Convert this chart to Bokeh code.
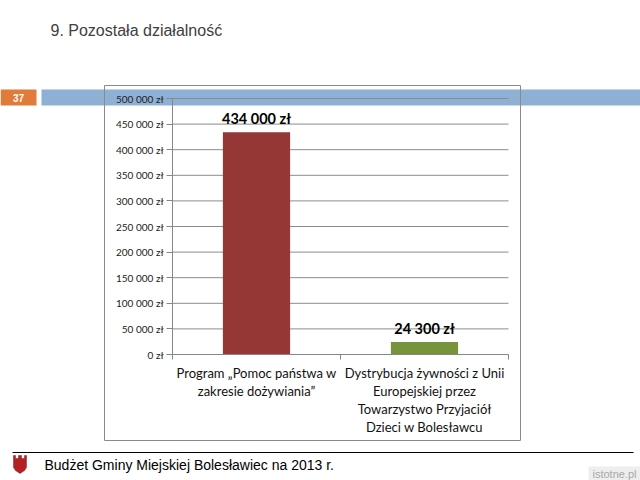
from bokeh.plotting import figure
from bokeh.models import Range1d, LinearAxis, FixedTicker
from bokeh.core.properties import value
from bokeh.embed import file_html
from bokeh.resources import INLINE

# ---- data ----
categories = ["Program „Pomoc państwa w\nzakresie dożywiania”",
              "Dystrybucja żywności z Unii\nEuropejskiej przez\nTowarzystwo Przyjaciół\nDzieci w Bolesławcu"]
amounts = [434000, 24300]
bar_colors = ["#953735", "#77933C"]
y_ticks = [0, 50000, 100000, 150000, 200000, 250000, 300000, 350000, 400000, 450000, 500000]
y_tick_labels = ["0 zł", "50 000 zł", "100 000 zł", "150 000 zł", "200 000 zł", "250 000 zł",
                 "300 000 zł", "350 000 zł", "400 000 zł", "450 000 zł", "500 000 zł"]
amount_labels = ["434 000 zł", "24 300 zł"]
y_max = 500000
slide_title = "9. Pozostała działalność"
slide_number = "37"
footer_text = "Budżet Gminy Miejskiej Bolesławiec na 2013 r."
watermark = "istotne.pl"

n = len(categories)
centers = [i + 0.5 for i in range(n)]
bounds = list(range(n + 1))

# ---- layout geometry (page pixels) ----
W, H = 640, 480
FL, FR, FT, FB = 172, 508, 98, 354          # plot area of the chart
xpp = n / (FR - FL)                         # category units per pixel
ypp = y_max / (FB - FT)                     # value units per pixel

p = figure(width=W, height=H, output_backend="svg", toolbar_location=None,
           x_range=Range1d(-FL * xpp, (W - FL) * xpp),
           y_range=Range1d(-(H - FB) * ypp, FB * ypp),
           x_axis_location=None, y_axis_location=None,
           min_border_left=0, min_border_right=0, min_border_top=0, min_border_bottom=0)
p.outline_line_color = None
p.background_fill_color = "white"
p.border_fill_color = "white"
p.grid.visible = False
# page-pixel ranges for the slide decorations
p.extra_x_ranges = {"px": Range1d(0, W)}
p.extra_y_ranges = {"px": Range1d(H, 0)}
PX = dict(x_range_name="px", y_range_name="px")

# ---- slide decorations ----
p.quad(left=[41], right=[640], top=[89], bottom=[105], fill_color="#8EB0D5", line_color=None, **PX)
p.quad(left=[0], right=[36], top=[89], bottom=[105], fill_color="#E07B39", line_color=None, **PX)
p.text(x=[18], y=[97.5], text=[slide_number], text_font=value("Liberation Sans"), text_font_size="10px",
       text_font_style="bold", text_color="white", text_align="center", text_baseline="middle", **PX)
p.quad(left=[104], right=[520], top=[85], bottom=[440], fill_color=None, line_color="#8a8a8a",
       line_width=1, **PX)
p.text(x=[50], y=[30], text=[slide_title], text_font=value("Liberation Sans"), text_font_size="16px",
       text_color="#404040", text_align="left", text_baseline="middle", **PX)
p.segment(x0=[12], y0=[452], x1=[633], y1=[452], line_color="black", line_width=1, **PX)
p.patch(x=[13, 13, 15, 15, 18, 18, 21, 21, 24, 24, 26, 26, 24, 19.5, 15],
        y=[467, 455, 455, 458, 458, 455, 455, 458, 458, 455, 455, 467, 470, 473, 470],
        fill_color="#B22222", line_color="#8B1A1A", line_width=0.5, **PX)
p.text(x=[44], y=[464], text=[footer_text], text_font=value("Liberation Sans"), text_font_size="14px",
       text_color="black", text_align="left", text_baseline="middle", **PX)
p.quad(left=[588], right=[640], top=[466], bottom=[480], fill_color="#eeeeee", line_color=None, **PX)
p.text(x=[636], y=[473], text=[watermark], text_font=value("Liberation Sans"), text_font_size="11px",
       text_color="#a8a8a8", text_align="right", text_baseline="middle", **PX)

# ---- chart ----
p.segment(x0=[0] * len(y_ticks), y0=y_ticks, x1=[n] * len(y_ticks), y1=y_ticks,
          line_color="#8c8c8c", line_width=1)
p.vbar(x=centers, top=amounts, width=0.4, fill_color=bar_colors, line_color=None)
p.text(x=centers, y=amounts, text=amount_labels, text_align="center", text_baseline="bottom",
       y_offset=-5, text_font=value("Lato"), text_font_style="bold",
       text_font_size="14.5px", text_color="black")

ya = LinearAxis(ticker=FixedTicker(ticks=y_ticks), fixed_location=0, bounds=(0, y_max),
                major_label_overrides={t: l for t, l in zip(y_ticks, y_tick_labels)},
                major_label_text_font="Lato", major_label_text_font_size="10px",
                major_label_text_color="#222222", axis_line_color="#868686",
                major_tick_line_color="#868686", major_tick_in=0, major_tick_out=6,
                minor_tick_line_color=None, major_label_standoff=3)
p.add_layout(ya, "left")

tick_axis = LinearAxis(ticker=FixedTicker(ticks=bounds), fixed_location=0, bounds=(0, n),
                       major_label_overrides={b: "" for b in bounds},
                       major_label_text_font_size="1px", major_label_standoff=0,
                       axis_line_color="#868686", major_tick_line_color="#868686",
                       major_tick_in=0, major_tick_out=5, minor_tick_line_color=None)
p.add_layout(tick_axis, "below")
cat_axis = LinearAxis(ticker=FixedTicker(ticks=centers), fixed_location=0,
                      major_label_overrides={c: t for c, t in zip(centers, categories)},
                      axis_line_color=None, major_tick_line_color=None, minor_tick_line_color=None,
                      major_tick_in=0, major_tick_out=0,
                      major_label_text_font="Lato", major_label_text_font_size="13px",
                      major_label_text_color="#111111", major_label_standoff=10,
                      major_label_text_line_height=1.13)
p.add_layout(cat_axis, "below")

open("out.html", "w").write(file_html(p, INLINE))
